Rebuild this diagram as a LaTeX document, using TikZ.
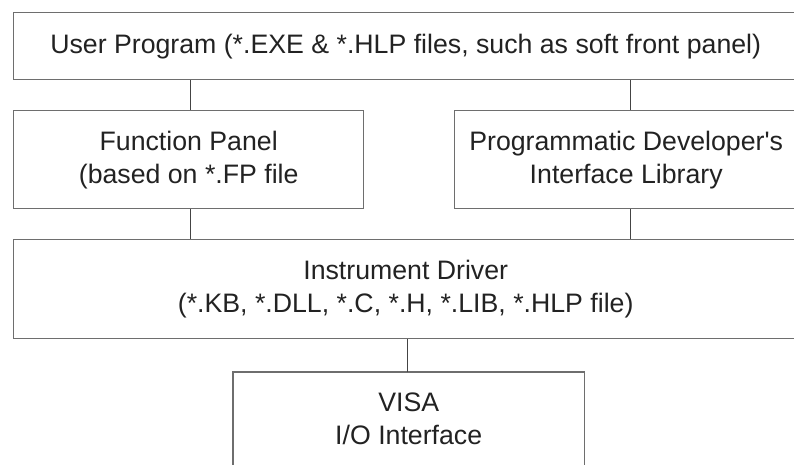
\documentclass[tikz,border=0pt]{standalone}
\usepackage{fontspec}
\setmainfont{Liberation Sans}[Ligatures=TeXOff]
\definecolor{boxgray}{HTML}{6E6E6E}
\definecolor{textdark}{HTML}{222222}
\definecolor{conngray}{HTML}{444444}
\begin{document}
\begin{tikzpicture}[x=1pt,y=-1pt,
  box/.style={draw=boxgray, line width=1.4pt, inner sep=0pt, align=center,
    anchor=north west, font=\fontsize{26.7}{33}\selectfont, text=textdark},
  boxline/.style={draw=boxgray, line width=1.4pt},
  conn/.style={draw=conngray, line width=1pt}]
\useasboundingbox (0,0) rectangle (794,465);
\clip (0,0) rectangle (794,465);
\node[box, minimum width=784pt, minimum height=67pt] (user) at (13,12)
  {User Program (*.EXE \& *.HLP files, such as soft front panel)};
\node[box, minimum width=350pt, minimum height=98pt] (fp) at (13,110)
  {Function Panel\\(based on *.FP file};
\node[box, minimum width=343pt, minimum height=98pt] (prog) at (454,110)
  {Programmatic Developer's\\Interface Library};
\node[box, minimum width=784pt, minimum height=99pt] (id) at (13,239)
  {Instrument Driver\\(*.KB, *.DLL, *.C, *.H, *.LIB, *.HLP file)};
\node[box, draw=none, minimum width=350pt, minimum height=92pt] (visa) at (233,372)
  {VISA\\I/O Interface};
\draw[boxline] ([yshift=-30pt]visa.south west) -- (visa.north west) -- (visa.north east) -- ([yshift=-30pt]visa.south east);
\draw[conn] ([xshift=2pt]fp.north) -- ([xshift=2pt]fp.north |- user.south);
\draw[conn] ([xshift=4.5pt]prog.north) -- ([xshift=4.5pt]prog.north |- user.south);
\draw[conn] ([xshift=2pt]fp.south) -- ([xshift=2pt]fp.south |- id.north);
\draw[conn] ([xshift=4.5pt]prog.south) -- ([xshift=4.5pt]prog.south |- id.north);
\draw[conn] ([xshift=-1pt]visa.north) -- ([xshift=-1pt]visa.north |- id.south);
\end{tikzpicture}
\end{document}
